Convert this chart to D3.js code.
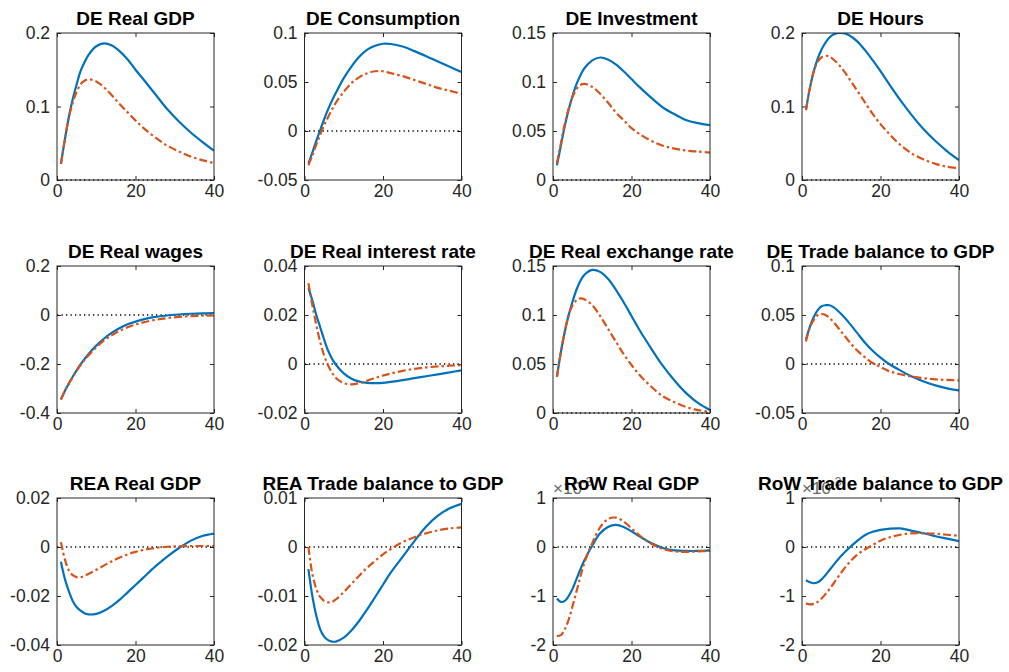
<!DOCTYPE html>
<html>
<head>
<meta charset="utf-8">
<script src="https://cdn.jsdelivr.net/npm/d3@7"></script>
<style>
  html, body { margin: 0; padding: 0; background: #ffffff; }
  svg { display: block; }
</style>
</head>
<body>
<svg id="chart" width="1009" height="672"></svg>
<script>
// ---------------- DATA ----------------
const periods = [1,2,3,4,5,6,7,8,10,12,14,16,18,20,22,25,28,31,34,37,40];
const xTicks = [0, 20, 40];

const titles = [
  "DE Real GDP", "DE Consumption", "DE Investment", "DE Hours",
  "DE Real wages", "DE Real interest rate", "DE Real exchange rate", "DE Trade balance to GDP",
  "REA Real GDP", "REA Trade balance to GDP", "RoW Real GDP", "RoW Trade balance to GDP"
];

const yDomains = [
  [0, 0.2], [-0.05, 0.1], [0, 0.15], [0, 0.2],
  [-0.4, 0.2], [-0.02, 0.04], [0, 0.15], [-0.05, 0.1],
  [-0.04, 0.02], [-0.02, 0.01], [-2, 1], [-2, 1]
];

const yTicks = [
  [0, 0.1, 0.2], [-0.05, 0, 0.05, 0.1], [0, 0.05, 0.1, 0.15], [0, 0.1, 0.2],
  [-0.4, -0.2, 0, 0.2], [-0.02, 0, 0.02, 0.04], [0, 0.05, 0.1, 0.15], [-0.05, 0, 0.05, 0.1],
  [-0.04, -0.02, 0, 0.02], [-0.02, -0.01, 0, 0.01], [-2, -1, 0, 1], [-2, -1, 0, 1]
];

// exponent shown above the axis (null = none)
const yExponents = [null,null,null,null,null,null,null,null,null,null,-3,-3];

// solid (blue) series
const deGdpSolid      = [.022,.055,.085,.11,.13,.148,.16,.17,.182,.186,.183,.175,.164,.15,.137,.117,.097,.08,.065,.052,.04];
const deConsSolid     = [-.033,-.022,-.01,.001,.012,.022,.031,.039,.054,.066,.076,.083,.087,.089,.0888,.0862,.0815,.0763,.0708,.0655,.0603];
const deInvSolid      = [.015,.035,.055,.072,.086,.098,.107,.114,.122,.125,.123,.118,.111,.103,.095,.084,.074,.067,.061,.058,.056];
const deHoursSolid    = [.095,.125,.148,.165,.178,.187,.194,.198,.2,.197,.189,.177,.163,.148,.132,.109,.088,.069,.053,.039,.027];
const deWagesSolid    = [-.345,-.31,-.28,-.252,-.226,-.202,-.18,-.16,-.125,-.096,-.072,-.053,-.038,-.027,-.018,-.008,-.002,.002,.005,.007,.008];
const deRateSolid     = [.031,.026,.020,.015,.010,.0055,.0022,-.0003,-.0038,-.006,-.0072,-.0077,-.0078,-.0077,-.0073,-.0066,-.0058,-.005,-.0042,-.0034,-.0026];
const deRerSolid      = [.037,.062,.083,.1,.114,.126,.135,.141,.146,.144,.137,.126,.113,.099,.085,.066,.048,.033,.02,.01,.003];
const deTbSolid       = [.025,.038,.048,.055,.059,.06,.06,.058,.051,.042,.032,.022,.0135,.0065,.0005,-.0065,-.0128,-.0178,-.0218,-.0248,-.027];
const reaGdpSolid     = [-.006,-.013,-.018,-.022,-.0245,-.026,-.027,-.0275,-.0273,-.026,-.024,-.0215,-.0185,-.0155,-.0125,-.008,-.004,-.0005,.0025,.0045,.0055];
const reaTbSolid      = [-.0045,-.01,-.014,-.0168,-.0183,-.019,-.0193,-.0193,-.0185,-.017,-.015,-.0127,-.0102,-.0077,-.0052,-.002,.0012,.0042,.0064,.0079,.0088];
const rowGdpSolid     = [-1.05,-1.12,-1.1,-1.0,-.85,-.65,-.45,-.27,.03,.28,.41,.45,.41,.32,.22,.08,-.02,-.07,-.08,-.08,-.07];
const rowTbSolid      = [-.68,-.72,-.74,-.72,-.66,-.57,-.47,-.37,-.18,-.02,.12,.24,.31,.35,.37,.38,.33,.28,.22,.17,.12];

// dash-dot (red) series
const deGdpDash       = [.022,.055,.085,.105,.12,.13,.135,.137,.134,.126,.115,.103,.092,.081,.071,.058,.047,.039,.032,.027,.023];
const deConsDash      = [-.035,-.025,-.014,-.004,.006,.014,.022,.029,.04,.049,.055,.059,.061,.061,.059,.056,.052,.048,.044,.041,.038];
const deInvDash       = [.017,.037,.057,.073,.085,.093,.097,.098,.095,.088,.079,.069,.061,.053,.047,.04,.035,.032,.03,.029,.028];
const deHoursDash     = [.095,.125,.148,.161,.167,.169,.168,.164,.153,.138,.122,.106,.09,.076,.064,.048,.036,.028,.022,.018,.016];
const deWagesDash     = [-.345,-.31,-.28,-.253,-.228,-.205,-.184,-.165,-.132,-.104,-.082,-.064,-.05,-.039,-.03,-.02,-.013,-.008,-.005,-.003,-.002];
const deRateDash      = [.033,.024,.016,.009,.0035,-.0005,-.0035,-.0057,-.0078,-.0083,-.0078,-.0068,-.0057,-.0047,-.0039,-.0028,-.002,-.0014,-.001,-.0007,-.0005];
const deRerDash       = [.037,.062,.083,.1,.11,.115,.117,.116,.11,.099,.086,.073,.06,.049,.039,.027,.017,.011,.006,.003,.001];
const deTbDash        = [.023,.037,.045,.05,.051,.05,.047,.043,.033,.023,.014,.007,.001,-.003,-.007,-.0105,-.0128,-.0145,-.0157,-.0163,-.0167];
const reaGdpDash      = [.002,-.005,-.0095,-.0115,-.0123,-.0123,-.0118,-.011,-.0093,-.0075,-.0058,-.0043,-.003,-.002,-.0012,-.0004,.0001,.0003,.0004,.0004,.0004];
const reaTbDash       = [0,-.0055,-.0085,-.0102,-.011,-.0113,-.0112,-.0107,-.0092,-.0075,-.0058,-.0042,-.0028,-.0015,-.0004,.001,.002,.0028,.0034,.0038,.004];
const rowGdpDash      = [-1.82,-1.8,-1.68,-1.48,-1.2,-.9,-.6,-.32,.08,.4,.57,.6,.52,.38,.24,.07,-.04,-.09,-.1,-.09,-.08];
const rowTbDash       = [-1.15,-1.17,-1.16,-1.12,-1.05,-.96,-.86,-.75,-.52,-.32,-.16,-.05,.04,.13,.19,.25,.28,.28,.27,.25,.23];

const solidSeries = [deGdpSolid, deConsSolid, deInvSolid, deHoursSolid, deWagesSolid, deRateSolid,
                     deRerSolid, deTbSolid, reaGdpSolid, reaTbSolid, rowGdpSolid, rowTbSolid];
const dashSeries  = [deGdpDash, deConsDash, deInvDash, deHoursDash, deWagesDash, deRateDash,
                     deRerDash, deTbDash, reaGdpDash, reaTbDash, rowGdpDash, rowTbDash];

// ---------------- LAYOUT ----------------
const colLefts = [57, 304.5, 553, 802];
const rowTops = [33, 266, 498];
const plotW = 157, plotH = 147;
const axisColor = "#262626";
const blue = "#0072BD", red = "#D95319";
const fontFam = "'Liberation Sans', Arial, Helvetica, sans-serif";

const svg = d3.select("#chart");

titles.forEach((title, i) => {
  const r = Math.floor(i / 4), c = i % 4;
  const g = svg.append("g").attr("transform", `translate(${colLefts[c]},${rowTops[r]})`);

  const x = d3.scaleLinear().domain([0, 40]).range([0, plotW]);
  const y = d3.scaleLinear().domain(yDomains[i]).range([plotH, 0]);

  const clipId = "clip" + i;
  g.append("clipPath").attr("id", clipId)
    .append("rect").attr("width", plotW).attr("height", plotH);

  // axes (MATLAB-like box with inward ticks on all sides)
  const fmt = d => String(d);
  const tl = 4;
  const ax = g.append("g").attr("transform", `translate(0,${plotH})`)
    .call(d3.axisBottom(x).tickValues(xTicks).tickFormat(fmt).tickSizeInner(-tl).tickSizeOuter(0).tickPadding(5));
  const axT = g.append("g")
    .call(d3.axisTop(x).tickValues(xTicks).tickFormat("").tickSizeInner(-tl).tickSizeOuter(0));
  const ay = g.append("g")
    .call(d3.axisLeft(y).tickValues(yTicks[i]).tickFormat(fmt).tickSizeInner(-tl).tickSizeOuter(0).tickPadding(7));
  const ayR = g.append("g").attr("transform", `translate(${plotW},0)`)
    .call(d3.axisRight(y).tickValues(yTicks[i]).tickFormat("").tickSizeInner(-tl).tickSizeOuter(0));

  [ax, axT, ay, ayR].forEach(a => {
    a.select(".domain").remove();
    a.selectAll("line").attr("stroke", axisColor).attr("stroke-width", 1);
    a.selectAll("text").attr("fill", axisColor)
      .style("font-family", fontFam)
      .style("font-size", "17.5px");
  });

  // zero reference line
  g.append("line")
    .attr("x1", 0).attr("x2", plotW)
    .attr("y1", y(0)).attr("y2", y(0))
    .attr("stroke", "#000").attr("stroke-width", 1.3)
    .attr("stroke-dasharray", "1.3,3.2");

  const line = d3.line()
    .x((d, k) => x(periods[k]))
    .y(d => y(d))
    .curve(d3.curveCatmullRom.alpha(0.5));

  const lines = g.append("g").attr("clip-path", `url(#${clipId})`);
  lines.append("path")
    .attr("d", line(solidSeries[i]))
    .attr("fill", "none").attr("stroke", blue).attr("stroke-width", 2.2);
  lines.append("path")
    .attr("d", line(dashSeries[i]))
    .attr("fill", "none").attr("stroke", red).attr("stroke-width", 2.2)
    .attr("stroke-dasharray", "8,3,2.5,3");

  // box
  g.append("rect").attr("width", plotW).attr("height", plotH)
    .attr("fill", "none").attr("stroke", axisColor).attr("stroke-width", 1);

  // exponent label (sits behind the title, as in the original figure)
  if (yExponents[i] !== null) {
    const t = g.append("text")
      .attr("x", 0).attr("y", -4)
      .attr("fill", "#6a6a6a")
      .style("font-family", fontFam)
      .style("font-size", "17px");
    t.append("tspan").text("\u00D710");
    t.append("tspan").attr("dy", -8).style("font-size", "12px").text(String(yExponents[i]));
  }

  // title
  g.append("text")
    .attr("x", plotW / 2).attr("y", -8)
    .attr("text-anchor", "middle")
    .attr("fill", "#000")
    .style("font-family", fontFam)
    .style("font-weight", "bold")
    .style("font-size", "19px")
    .text(title);
});
</script>
</body>
</html>
